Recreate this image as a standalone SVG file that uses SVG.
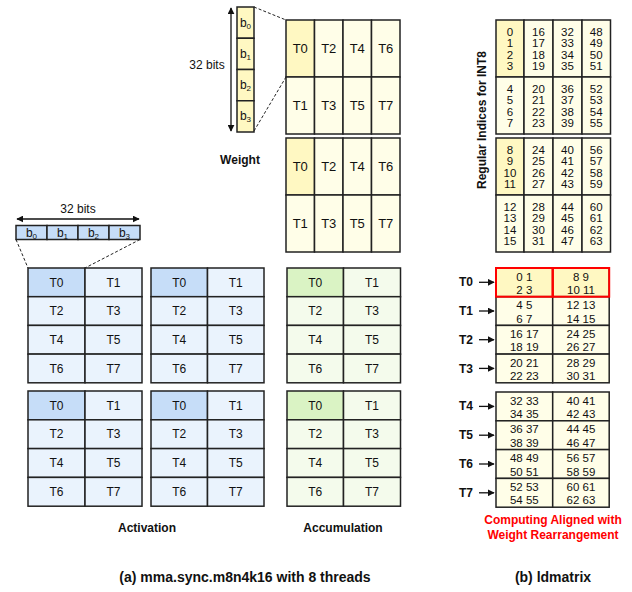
<svg xmlns="http://www.w3.org/2000/svg" width="632" height="592" viewBox="0 0 632 592">
<style>
text{font-family:"Liberation Sans",Arial,sans-serif;fill:#111}
.c{stroke:#222;stroke-width:1.5}
.w{fill:#FFFEE8}.wh{fill:#FFF8C2}
.a{fill:#EAF3FD}.ah{fill:#C6DDF8}
.g{fill:#F4FBEC}.gh{fill:#DAF3C4}
.t{font-size:12px;text-anchor:middle}
.tw{font-size:13px;text-anchor:middle}
.n{font-size:11.5px;text-anchor:middle}
.b{font-weight:bold;font-size:12px;text-anchor:middle}
.cap{font-weight:bold;font-size:14px;text-anchor:middle}
.red{fill:none;stroke:#F00;stroke-width:2}
.dash{stroke:#222;stroke-width:1;stroke-dasharray:3,2;fill:none}
.ar{stroke:#111;stroke-width:1.3;fill:none}
</style>
<defs>
<marker id="ah" viewBox="0 0 10 10" refX="9" refY="5" markerWidth="7" markerHeight="7" orient="auto-start-reverse" markerUnits="userSpaceOnUse"><path d="M0,0 L10,5 L0,10 z" fill="#111"/></marker>
</defs>

<!-- Weight bit column -->
<g id="weight-bits">
<rect class="c wh" x="237" y="7" width="17" height="31.25"/>
<rect class="c wh" x="237" y="38.25" width="17" height="31.25"/>
<rect class="c wh" x="237" y="69.5" width="17" height="31.25"/>
<rect class="c wh" x="237" y="100.75" width="17" height="31.25"/>
<text x="245.5" y="27" class="t">b<tspan font-size="8" dy="2">0</tspan></text>
<text x="245.5" y="58" class="t">b<tspan font-size="8" dy="2">1</tspan></text>
<text x="245.5" y="89" class="t">b<tspan font-size="8" dy="2">2</tspan></text>
<text x="245.5" y="120" class="t">b<tspan font-size="8" dy="2">3</tspan></text>
<text x="207" y="69" class="t">32 bits</text>
</g>

<!-- Weight matrix -->
<g id="weight">
<rect class="c wh" x="286" y="20" width="28.5" height="57"/>
<rect class="c w" x="314.5" y="20" width="28.5" height="57"/>
<rect class="c w" x="343" y="20" width="28.5" height="57"/>
<rect class="c w" x="371.5" y="20" width="28.5" height="57"/>
<rect class="c w" x="286" y="77" width="28.5" height="57"/>
<rect class="c w" x="314.5" y="77" width="28.5" height="57"/>
<rect class="c w" x="343" y="77" width="28.5" height="57"/>
<rect class="c w" x="371.5" y="77" width="28.5" height="57"/>
<text x="300.25" y="53" class="tw">T0</text><text x="328.75" y="53" class="tw">T2</text><text x="357.25" y="53" class="tw">T4</text><text x="385.75" y="53" class="tw">T6</text>
<text x="300.25" y="110" class="tw">T1</text><text x="328.75" y="110" class="tw">T3</text><text x="357.25" y="110" class="tw">T5</text><text x="385.75" y="110" class="tw">T7</text>
<rect class="c wh" x="286" y="138" width="28.5" height="57"/>
<rect class="c w" x="314.5" y="138" width="28.5" height="57"/>
<rect class="c w" x="343" y="138" width="28.5" height="57"/>
<rect class="c w" x="371.5" y="138" width="28.5" height="57"/>
<rect class="c w" x="286" y="195" width="28.5" height="57"/>
<rect class="c w" x="314.5" y="195" width="28.5" height="57"/>
<rect class="c w" x="343" y="195" width="28.5" height="57"/>
<rect class="c w" x="371.5" y="195" width="28.5" height="57"/>
<text x="300.25" y="171" class="tw">T0</text><text x="328.75" y="171" class="tw">T2</text><text x="357.25" y="171" class="tw">T4</text><text x="385.75" y="171" class="tw">T6</text>
<text x="300.25" y="228" class="tw">T1</text><text x="328.75" y="228" class="tw">T3</text><text x="357.25" y="228" class="tw">T5</text><text x="385.75" y="228" class="tw">T7</text>
<text x="240" y="164" class="b">Weight</text>
</g>

<!-- Activation bit row -->
<g id="act-bits">
<rect class="c ah" x="16" y="225.5" width="31" height="14"/>
<rect class="c ah" x="47" y="225.5" width="31" height="14"/>
<rect class="c ah" x="78" y="225.5" width="31" height="14"/>
<rect class="c ah" x="109" y="225.5" width="31" height="14"/>
<text x="31.5" y="237" class="t">b<tspan font-size="8" dy="2">0</tspan></text>
<text x="62.5" y="237" class="t">b<tspan font-size="8" dy="2">1</tspan></text>
<text x="93.5" y="237" class="t">b<tspan font-size="8" dy="2">2</tspan></text>
<text x="124.5" y="237" class="t">b<tspan font-size="8" dy="2">3</tspan></text>
<text x="78" y="213" class="t">32 bits</text>
</g>

<!-- Activation grids -->
<g id="activation">
<g id="act-1">
<rect class="c ah" x="28" y="268" width="57" height="28.7"/><rect class="c a" x="85" y="268" width="57" height="28.7"/>
<rect class="c a" x="28" y="296.7" width="57" height="28.7"/><rect class="c a" x="85" y="296.7" width="57" height="28.7"/>
<rect class="c a" x="28" y="325.4" width="57" height="28.7"/><rect class="c a" x="85" y="325.4" width="57" height="28.7"/>
<rect class="c a" x="28" y="354.1" width="57" height="28.7"/><rect class="c a" x="85" y="354.1" width="57" height="28.7"/>
<text x="56.5" y="286.5" class="t">T0</text><text x="113.5" y="286.5" class="t">T1</text>
<text x="56.5" y="315.2" class="t">T2</text><text x="113.5" y="315.2" class="t">T3</text>
<text x="56.5" y="343.9" class="t">T4</text><text x="113.5" y="343.9" class="t">T5</text>
<text x="56.5" y="372.6" class="t">T6</text><text x="113.5" y="372.6" class="t">T7</text>
</g>
<g id="act-2">
<rect class="c ah" x="151" y="268" width="56.5" height="28.7"/><rect class="c a" x="207.5" y="268" width="56.5" height="28.7"/>
<rect class="c a" x="151" y="296.7" width="56.5" height="28.7"/><rect class="c a" x="207.5" y="296.7" width="56.5" height="28.7"/>
<rect class="c a" x="151" y="325.4" width="56.5" height="28.7"/><rect class="c a" x="207.5" y="325.4" width="56.5" height="28.7"/>
<rect class="c a" x="151" y="354.1" width="56.5" height="28.7"/><rect class="c a" x="207.5" y="354.1" width="56.5" height="28.7"/>
<text x="179.25" y="286.5" class="t">T0</text><text x="235.75" y="286.5" class="t">T1</text>
<text x="179.25" y="315.2" class="t">T2</text><text x="235.75" y="315.2" class="t">T3</text>
<text x="179.25" y="343.9" class="t">T4</text><text x="235.75" y="343.9" class="t">T5</text>
<text x="179.25" y="372.6" class="t">T6</text><text x="235.75" y="372.6" class="t">T7</text>
</g>
<g id="act-3">
<rect class="c ah" x="28" y="391" width="57" height="28.8"/><rect class="c a" x="85" y="391" width="57" height="28.8"/>
<rect class="c a" x="28" y="419.8" width="57" height="28.8"/><rect class="c a" x="85" y="419.8" width="57" height="28.8"/>
<rect class="c a" x="28" y="448.6" width="57" height="28.8"/><rect class="c a" x="85" y="448.6" width="57" height="28.8"/>
<rect class="c a" x="28" y="477.4" width="57" height="28.8"/><rect class="c a" x="85" y="477.4" width="57" height="28.8"/>
<text x="56.5" y="409.5" class="t">T0</text><text x="113.5" y="409.5" class="t">T1</text>
<text x="56.5" y="438.3" class="t">T2</text><text x="113.5" y="438.3" class="t">T3</text>
<text x="56.5" y="467.1" class="t">T4</text><text x="113.5" y="467.1" class="t">T5</text>
<text x="56.5" y="495.9" class="t">T6</text><text x="113.5" y="495.9" class="t">T7</text>
</g>
<g id="act-4">
<rect class="c ah" x="151" y="391" width="56.5" height="28.8"/><rect class="c a" x="207.5" y="391" width="56.5" height="28.8"/>
<rect class="c a" x="151" y="419.8" width="56.5" height="28.8"/><rect class="c a" x="207.5" y="419.8" width="56.5" height="28.8"/>
<rect class="c a" x="151" y="448.6" width="56.5" height="28.8"/><rect class="c a" x="207.5" y="448.6" width="56.5" height="28.8"/>
<rect class="c a" x="151" y="477.4" width="56.5" height="28.8"/><rect class="c a" x="207.5" y="477.4" width="56.5" height="28.8"/>
<text x="179.25" y="409.5" class="t">T0</text><text x="235.75" y="409.5" class="t">T1</text>
<text x="179.25" y="438.3" class="t">T2</text><text x="235.75" y="438.3" class="t">T3</text>
<text x="179.25" y="467.1" class="t">T4</text><text x="235.75" y="467.1" class="t">T5</text>
<text x="179.25" y="495.9" class="t">T6</text><text x="235.75" y="495.9" class="t">T7</text>
</g>
<text x="147" y="532" class="b">Activation</text>
</g>

<!-- Accumulation -->
<g id="accumulation">
<rect class="c gh" x="287" y="268" width="56.5" height="28.7"/><rect class="c g" x="343.5" y="268" width="57" height="28.7"/>
<rect class="c g" x="287" y="296.7" width="56.5" height="28.7"/><rect class="c g" x="343.5" y="296.7" width="57" height="28.7"/>
<rect class="c g" x="287" y="325.4" width="56.5" height="28.7"/><rect class="c g" x="343.5" y="325.4" width="57" height="28.7"/>
<rect class="c g" x="287" y="354.1" width="56.5" height="28.7"/><rect class="c g" x="343.5" y="354.1" width="57" height="28.7"/>
<text x="315.25" y="286.5" class="t">T0</text><text x="372" y="286.5" class="t">T1</text>
<text x="315.25" y="315.2" class="t">T2</text><text x="372" y="315.2" class="t">T3</text>
<text x="315.25" y="343.9" class="t">T4</text><text x="372" y="343.9" class="t">T5</text>
<text x="315.25" y="372.6" class="t">T6</text><text x="372" y="372.6" class="t">T7</text>
<rect class="c gh" x="287" y="391" width="56.5" height="28.8"/><rect class="c g" x="343.5" y="391" width="57" height="28.8"/>
<rect class="c g" x="287" y="419.8" width="56.5" height="28.8"/><rect class="c g" x="343.5" y="419.8" width="57" height="28.8"/>
<rect class="c g" x="287" y="448.6" width="56.5" height="28.8"/><rect class="c g" x="343.5" y="448.6" width="57" height="28.8"/>
<rect class="c g" x="287" y="477.4" width="56.5" height="28.8"/><rect class="c g" x="343.5" y="477.4" width="57" height="28.8"/>
<text x="315.25" y="409.5" class="t">T0</text><text x="372" y="409.5" class="t">T1</text>
<text x="315.25" y="438.3" class="t">T2</text><text x="372" y="438.3" class="t">T3</text>
<text x="315.25" y="467.1" class="t">T4</text><text x="372" y="467.1" class="t">T5</text>
<text x="315.25" y="495.9" class="t">T6</text><text x="372" y="495.9" class="t">T7</text>
<text x="343" y="532" class="b">Accumulation</text>
</g>

<!-- Regular indices -->
<g id="indices">
<text transform="translate(486,120) rotate(-90)" class="b">Regular Indices for INT8</text>
<rect class="c wh" x="496" y="20" width="28" height="57"/><rect class="c w" x="524" y="20" width="29" height="57"/><rect class="c w" x="553" y="20" width="29" height="57"/><rect class="c w" x="582" y="20" width="28.5" height="57"/>
<rect class="c w" x="496" y="77" width="28" height="57"/><rect class="c w" x="524" y="77" width="29" height="57"/><rect class="c w" x="553" y="77" width="29" height="57"/><rect class="c w" x="582" y="77" width="28.5" height="57"/>
<rect class="c wh" x="496" y="138" width="28" height="57"/><rect class="c w" x="524" y="138" width="29" height="57"/><rect class="c w" x="553" y="138" width="29" height="57"/><rect class="c w" x="582" y="138" width="28.5" height="57"/>
<rect class="c w" x="496" y="195" width="28" height="57"/><rect class="c w" x="524" y="195" width="29" height="57"/><rect class="c w" x="553" y="195" width="29" height="57"/><rect class="c w" x="582" y="195" width="28.5" height="57"/>
<g class="n">
<text x="510" y="36"><tspan x="510">0</tspan><tspan x="510" dy="11.3">1</tspan><tspan x="510" dy="11.3">2</tspan><tspan x="510" dy="11.3">3</tspan></text>
<text x="538.5" y="36"><tspan x="538.5">16</tspan><tspan x="538.5" dy="11.3">17</tspan><tspan x="538.5" dy="11.3">18</tspan><tspan x="538.5" dy="11.3">19</tspan></text>
<text x="567.5" y="36"><tspan x="567.5">32</tspan><tspan x="567.5" dy="11.3">33</tspan><tspan x="567.5" dy="11.3">34</tspan><tspan x="567.5" dy="11.3">35</tspan></text>
<text x="596.25" y="36"><tspan x="596.25">48</tspan><tspan x="596.25" dy="11.3">49</tspan><tspan x="596.25" dy="11.3">50</tspan><tspan x="596.25" dy="11.3">51</tspan></text>
<text x="510" y="93"><tspan x="510">4</tspan><tspan x="510" dy="11.3">5</tspan><tspan x="510" dy="11.3">6</tspan><tspan x="510" dy="11.3">7</tspan></text>
<text x="538.5" y="93"><tspan x="538.5">20</tspan><tspan x="538.5" dy="11.3">21</tspan><tspan x="538.5" dy="11.3">22</tspan><tspan x="538.5" dy="11.3">23</tspan></text>
<text x="567.5" y="93"><tspan x="567.5">36</tspan><tspan x="567.5" dy="11.3">37</tspan><tspan x="567.5" dy="11.3">38</tspan><tspan x="567.5" dy="11.3">39</tspan></text>
<text x="596.25" y="93"><tspan x="596.25">52</tspan><tspan x="596.25" dy="11.3">53</tspan><tspan x="596.25" dy="11.3">54</tspan><tspan x="596.25" dy="11.3">55</tspan></text>
<text x="510" y="154"><tspan x="510">8</tspan><tspan x="510" dy="11.3">9</tspan><tspan x="510" dy="11.3">10</tspan><tspan x="510" dy="11.3">11</tspan></text>
<text x="538.5" y="154"><tspan x="538.5">24</tspan><tspan x="538.5" dy="11.3">25</tspan><tspan x="538.5" dy="11.3">26</tspan><tspan x="538.5" dy="11.3">27</tspan></text>
<text x="567.5" y="154"><tspan x="567.5">40</tspan><tspan x="567.5" dy="11.3">41</tspan><tspan x="567.5" dy="11.3">42</tspan><tspan x="567.5" dy="11.3">43</tspan></text>
<text x="596.25" y="154"><tspan x="596.25">56</tspan><tspan x="596.25" dy="11.3">57</tspan><tspan x="596.25" dy="11.3">58</tspan><tspan x="596.25" dy="11.3">59</tspan></text>
<text x="510" y="211"><tspan x="510">12</tspan><tspan x="510" dy="11.3">13</tspan><tspan x="510" dy="11.3">14</tspan><tspan x="510" dy="11.3">15</tspan></text>
<text x="538.5" y="211"><tspan x="538.5">28</tspan><tspan x="538.5" dy="11.3">29</tspan><tspan x="538.5" dy="11.3">30</tspan><tspan x="538.5" dy="11.3">31</tspan></text>
<text x="567.5" y="211"><tspan x="567.5">44</tspan><tspan x="567.5" dy="11.3">45</tspan><tspan x="567.5" dy="11.3">46</tspan><tspan x="567.5" dy="11.3">47</tspan></text>
<text x="596.25" y="211"><tspan x="596.25">60</tspan><tspan x="596.25" dy="11.3">61</tspan><tspan x="596.25" dy="11.3">62</tspan><tspan x="596.25" dy="11.3">63</tspan></text>
</g>
</g>

<!-- ldmatrix rearranged -->
<g id="ldmatrix">
<rect class="c wh" x="496" y="268" width="56.7" height="28.7"/><rect class="c wh" x="552.7" y="268" width="56.5" height="28.7"/>
<rect class="c w" x="496" y="296.7" width="56.7" height="28.7"/><rect class="c w" x="552.7" y="296.7" width="56.5" height="28.7"/>
<rect class="c w" x="496" y="325.4" width="56.7" height="28.7"/><rect class="c w" x="552.7" y="325.4" width="56.5" height="28.7"/>
<rect class="c w" x="496" y="354.1" width="56.7" height="28.7"/><rect class="c w" x="552.7" y="354.1" width="56.5" height="28.7"/>
<rect class="c w" x="496" y="392" width="56.7" height="28.8"/><rect class="c w" x="552.7" y="392" width="56.5" height="28.8"/>
<rect class="c w" x="496" y="420.8" width="56.7" height="28.8"/><rect class="c w" x="552.7" y="420.8" width="56.5" height="28.8"/>
<rect class="c w" x="496" y="449.6" width="56.7" height="28.8"/><rect class="c w" x="552.7" y="449.6" width="56.5" height="28.8"/>
<rect class="c w" x="496" y="478.4" width="56.7" height="28.8"/><rect class="c w" x="552.7" y="478.4" width="56.5" height="28.8"/>
<rect class="red" x="496" y="268" width="56.7" height="28.7"/><rect class="red" x="552.7" y="268" width="56.5" height="28.7"/>
<g class="n">
<text x="524.3" y="280.5">0 1</text><text x="524.3" y="294">2 3</text><text x="581" y="280.5">8 9</text><text x="581" y="294">10 11</text>
<text x="524.3" y="309.2">4 5</text><text x="524.3" y="322.7">6 7</text><text x="581" y="309.2">12 13</text><text x="581" y="322.7">14 15</text>
<text x="524.3" y="337.9">16 17</text><text x="524.3" y="351.4">18 19</text><text x="581" y="337.9">24 25</text><text x="581" y="351.4">26 27</text>
<text x="524.3" y="366.6">20 21</text><text x="524.3" y="380.1">22 23</text><text x="581" y="366.6">28 29</text><text x="581" y="380.1">30 31</text>
<text x="524.3" y="404.5">32 33</text><text x="524.3" y="418">34 35</text><text x="581" y="404.5">40 41</text><text x="581" y="418">42 43</text>
<text x="524.3" y="433.3">36 37</text><text x="524.3" y="446.8">38 39</text><text x="581" y="433.3">44 45</text><text x="581" y="446.8">46 47</text>
<text x="524.3" y="462.1">48 49</text><text x="524.3" y="475.6">50 51</text><text x="581" y="462.1">56 57</text><text x="581" y="475.6">58 59</text>
<text x="524.3" y="490.9">52 53</text><text x="524.3" y="504.4">54 55</text><text x="581" y="490.9">60 61</text><text x="581" y="504.4">62 63</text>
</g>
<g class="b">
<text x="466" y="286">T0</text><text x="466" y="315">T1</text><text x="466" y="344">T2</text><text x="466" y="372.5">T3</text>
<text x="466" y="410">T4</text><text x="466" y="439">T5</text><text x="466" y="468">T6</text><text x="466" y="496.5">T7</text>
</g>
<text x="553" y="524" class="b" style="fill:#F00">Computing Aligned with</text>
<text x="553" y="539" class="b" style="fill:#F00">Weight Rearrangement</text>
</g>

<!-- Captions -->
<text x="245" y="582" class="cap">(a) mma.sync.m8n4k16 with 8 threads</text>
<text x="553" y="582" class="cap">(b) ldmatrix</text>

<!-- Connectors -->
<g id="connectors">
<line class="ar" x1="231" y1="8" x2="231" y2="131" marker-start="url(#ah)" marker-end="url(#ah)"/>
<line class="ar" x1="17" y1="219" x2="139" y2="219" marker-start="url(#ah)" marker-end="url(#ah)"/>
<line class="dash" x1="254" y1="7" x2="286" y2="20"/>
<line class="dash" x1="254" y1="131" x2="286" y2="77"/>
<line class="dash" x1="16" y1="239.5" x2="28" y2="268"/>
<line class="dash" x1="140" y1="239.5" x2="85" y2="268"/>
<line class="ar" x1="479" y1="282.3" x2="494" y2="282.3" marker-end="url(#ah)"/>
<line class="ar" x1="479" y1="311" x2="494" y2="311" marker-end="url(#ah)"/>
<line class="ar" x1="479" y1="339.7" x2="494" y2="339.7" marker-end="url(#ah)"/>
<line class="ar" x1="479" y1="368.4" x2="494" y2="368.4" marker-end="url(#ah)"/>
<line class="ar" x1="479" y1="406.4" x2="494" y2="406.4" marker-end="url(#ah)"/>
<line class="ar" x1="479" y1="435.2" x2="494" y2="435.2" marker-end="url(#ah)"/>
<line class="ar" x1="479" y1="464" x2="494" y2="464" marker-end="url(#ah)"/>
<line class="ar" x1="479" y1="492.8" x2="494" y2="492.8" marker-end="url(#ah)"/>
</g>
</svg>
